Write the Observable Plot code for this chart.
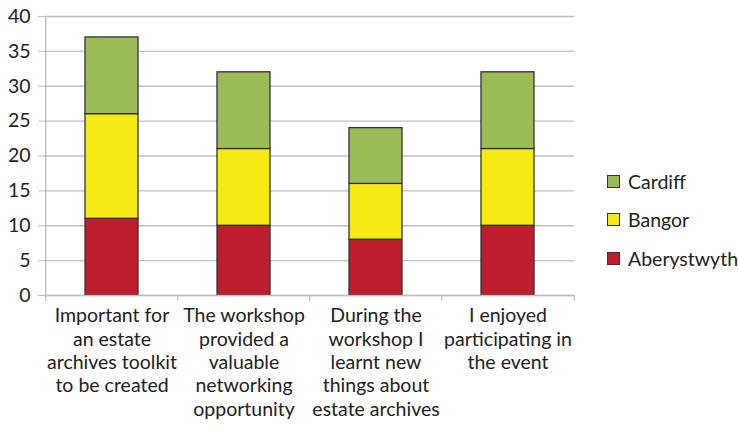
<!DOCTYPE html>
<html><head><meta charset="utf-8">
<script src="https://cdn.jsdelivr.net/npm/d3@7"></script>
<script src="https://cdn.jsdelivr.net/npm/@observablehq/plot@0.6"></script>
<style>
body{margin:0;background:#fff;font-family:Lato,"Open Sans",sans-serif;}
#wrap{position:relative;width:738px;height:432px;}
.legend{position:absolute;left:607px;font-size:19.5px;color:#222;display:flex;align-items:center;white-space:nowrap;}
.legend span.sw{display:inline-block;width:11px;height:11px;border:1px solid #333;margin-right:8px;}
</style></head><body>
<div id="wrap"></div>
<script>
const categories = [
  "Important for\nan estate\narchives toolkit\nto be created",
  "The workshop\nprovided a\nvaluable\nnetworking\nopportunity",
  "During the\nworkshop I\nlearnt new\nthings about\nestate archives",
  "I enjoyed\nparticipating in\nthe event"
];
const series = ["Aberystwyth", "Bangor", "Cardiff"];
const aberystwyth = [11, 10, 8, 10];
const bangor = [15, 11, 8, 11];
const cardiff = [11, 11, 8, 11];
const colors = ["#be1e2d", "#f5ea14", "#9bbb59"];
const yTicks = [0, 5, 10, 15, 20, 25, 30, 35, 40];

const values = [aberystwyth, bangor, cardiff];
const data = [];
series.forEach((s, si) => categories.forEach((c, ci) => data.push({category: c, series: s, value: values[si][ci]})));

const chart = Plot.plot({
  width: 738, height: 432,
  marginLeft: 44, marginRight: 164, marginTop: 16, marginBottom: 137,
  style: {fontFamily: "Lato, 'Open Sans', sans-serif", fontSize: "19.5px", color: "#222"},
  x: {domain: categories, paddingInner: 0.6, paddingOuter: 0.3, label: null},
  y: {domain: [0, 40], ticks: yTicks, label: null},
  color: {domain: series, range: colors},
  marks: [
    Plot.gridY(yTicks, {stroke: "#bfbfbf", strokeOpacity: 1, strokeWidth: 1.3}),
    Plot.barY(data, {x: "category", y: "value", fill: "series", stroke: "#333", strokeWidth: 1.3, order: series}),
    Plot.ruleX(categories, {x: d => d, dx: -66.25, y1: 0, y2: -0.86, stroke: "#bfbfbf", strokeWidth: 1.3}),
    Plot.ruleX([categories[3]], {x: d => d, dx: 66.25, y1: 0, y2: -0.86, stroke: "#bfbfbf", strokeWidth: 1.3}),
    Plot.ruleX([categories[0]], {x: d => d, dx: -66.25, y1: 40, y2: 0, stroke: "#bfbfbf", strokeWidth: 1.3}),
    Plot.ruleY([0], {stroke: "#bfbfbf", strokeWidth: 1.3}),
    Plot.axisY(yTicks, {tickSize: 6, tickPadding: 8, stroke: "#bfbfbf", fill: "#222", fontSize: 19.5}),
    Plot.axisX({tickSize: 0, tickPadding: 10, lineHeight: 1.2, fontSize: 19.5, fill: "#222", textAnchor: "middle"})
  ]
});
document.getElementById("wrap").appendChild(chart);
const legendItems = [["Cardiff", colors[2], 170], ["Bangor", colors[1], 208], ["Aberystwyth", colors[0], 247]];
for (const [name, col, top] of legendItems) {
  const d = document.createElement("div");
  d.className = "legend";
  d.style.top = top + "px";
  d.innerHTML = `<span class="sw" style="background:${col}"></span>${name}`;
  document.getElementById("wrap").appendChild(d);
}
</script>
</body></html>
